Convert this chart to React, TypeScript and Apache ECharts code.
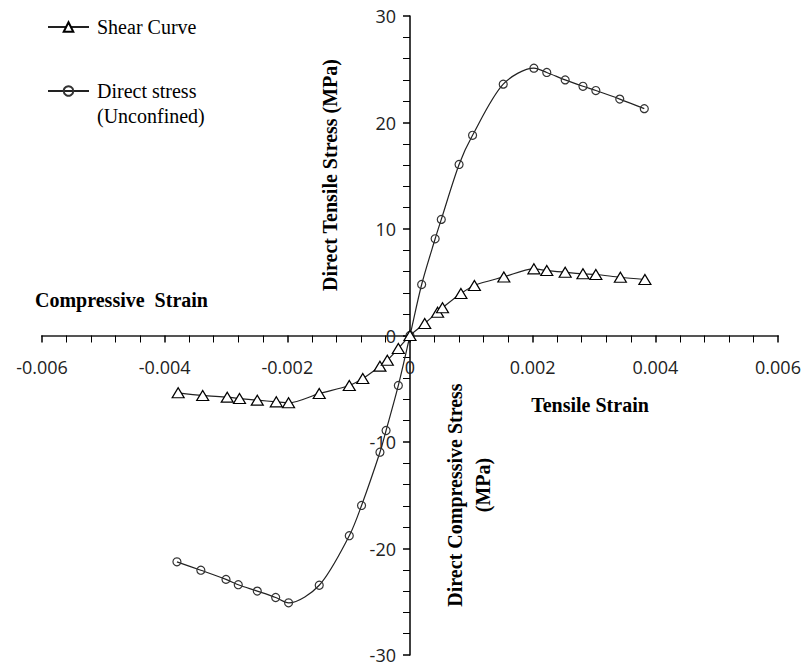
import React, { useEffect, useRef } from "react";
import * as echarts from "echarts";

const shearStrain = [-0.00378, -0.00338, -0.00298, -0.00278, -0.00249, -0.00218, -0.00198, -0.00148, -0.00099, -0.00077, -0.00049, -0.00037, -0.00019, 0, 0.00024, 0.00045, 0.00053, 0.00083, 0.00105, 0.00153, 0.00202, 0.00223, 0.00253, 0.00282, 0.00303, 0.00343, 0.00383];
const shearStress = [-5.38, -5.63, -5.79, -5.92, -6.07, -6.23, -6.32, -5.45, -4.69, -4.04, -2.88, -2.32, -1.22, 0, 1.13, 2.19, 2.6, 3.94, 4.7, 5.5, 6.26, 6.1, 5.94, 5.8, 5.73, 5.47, 5.26];

const directStrain = [-0.0038, -0.00341, -0.003, -0.0028, -0.00249, -0.00219, -0.00198, -0.00148, -0.00099, -0.00079, -0.00049, -0.00039, -0.00019, 0, 0.00019, 0.00041, 0.00051, 0.0008, 0.00102, 0.00152, 0.00202, 0.00223, 0.00253, 0.00282, 0.00303, 0.00342, 0.00382];
const directStress = [-21.25, -22.04, -22.9, -23.4, -24.0, -24.6, -25.1, -23.45, -18.8, -15.96, -10.96, -8.92, -4.69, 0, 4.79, 9.08, 10.9, 16.06, 18.8, 23.6, 25.1, 24.7, 24.0, 23.4, 23.0, 22.2, 21.3];

const seriesNames = ["Shear Curve", "Direct stress (Unconfined)"];
const xTicks = { min: -0.006, max: 0.006, interval: 0.002 };
const yTicks = { min: -30, max: 30, interval: 10 };

const serif = "'Liberation Serif', 'Times New Roman', serif";
const sans = "'Open Sans', 'DejaVu Sans', sans-serif";

const W = 805;
const H = 663;
const G = { left: 42, right: 27, top: 16, bottom: 8 };

export default function App() {
  const ref = useRef<HTMLDivElement>(null);
  useEffect(() => {
    if (!ref.current) return;
    const chart = echarts.init(ref.current, null, { renderer: "svg" });
    const shearData = shearStrain.map((x, i) => [x, shearStress[i]]);
    const directData = directStrain.map((x, i) => [x, directStress[i]]);
    const titleStyle = { fontFamily: serif, fontWeight: "bold", fontSize: 20, fill: "#000" };
    const gridH = H - G.top - G.bottom;
    const gridW = W - G.left - G.right;
    chart.setOption({
      animation: false,
      backgroundColor: "#fff",
      grid: { ...G, containLabel: false, outerBoundsMode: "none" },
      xAxis: {
        type: "value",
        position: "bottom",
        offset: -gridH / 2,
        min: xTicks.min,
        max: xTicks.max,
        interval: xTicks.interval,
        axisLine: { onZero: false, lineStyle: { color: "#555", width: 2 } },
        axisTick: { show: true, length: 7, lineStyle: { color: "#000", width: 1.5 } },
        minorTick: { show: true, splitNumber: 5, length: 7, lineStyle: { color: "#000", width: 1 } },
        splitLine: { show: false },
        axisLabel: {
          margin: 22,
          fontSize: 18,
          fontFamily: sans,
          color: "#222",
          formatter: (v: number) => (v === 0 ? "0" : String(Number(v.toFixed(3)))),
        },
      },
      yAxis: {
        type: "value",
        position: "left",
        offset: -gridW / 2,
        min: yTicks.min,
        max: yTicks.max,
        interval: yTicks.interval,
        axisLine: { onZero: false, lineStyle: { color: "#000", width: 1.5 } },
        axisTick: { show: true, length: 7, lineStyle: { color: "#000", width: 1.5 } },
        minorTick: { show: true, splitNumber: 5, length: 7, lineStyle: { color: "#000", width: 1 } },
        splitLine: { show: false },
        axisLabel: { margin: 14, fontSize: 18, fontFamily: sans, color: "#222" },
      },
      legend: [
        {
          data: [seriesNames[0]],
          left: 47,
          top: 14.5,
          padding: 0,
          itemWidth: 41,
          itemHeight: 12,
          textStyle: { fontFamily: serif, fontSize: 20, color: "#000", lineHeight: 25, padding: [0, 0, 0, 3] },
        },
        {
          data: [seriesNames[1]],
          left: 47,
          top: 53.5,
          padding: 0,
          itemWidth: 41,
          itemHeight: 12,
          formatter: () => "\nDirect stress\n(Unconfined)",
          textStyle: { fontFamily: serif, fontSize: 20, color: "#000", lineHeight: 25, padding: [0, 0, 0, 3] },
        },
      ],
      series: [
        {
          name: seriesNames[0],
          type: "line",
          data: shearData,
          smooth: 0.3,
          symbol: "triangle",
          symbolSize: [12, 10],
          lineStyle: { color: "#222", width: 1.2 },
          itemStyle: { color: "#fff", borderColor: "#000", borderWidth: 1.2 },
          z: 3,
        },
        {
          name: seriesNames[1],
          type: "line",
          data: directData,
          smooth: 0.3,
          symbol: "circle",
          symbolSize: 8,
          lineStyle: { color: "#222", width: 1.2 },
          itemStyle: { color: "rgba(255,255,255,0)", borderColor: "#333", borderWidth: 1.2 },
          z: 2,
        },
      ],
      graphic: [
        { type: "text", left: 35, top: 290, style: { ...titleStyle, text: "Compressive  Strain" } },
        { type: "text", x: 590, y: 405, style: { ...titleStyle, text: "Tensile Strain", align: "center", verticalAlign: "middle" } },
        { type: "text", x: 330, y: 175, rotation: Math.PI / 2, style: { ...titleStyle, text: "Direct Tensile Stress (MPa)", align: "center", verticalAlign: "middle" } },
        { type: "text", x: 455, y: 495, rotation: Math.PI / 2, style: { ...titleStyle, text: "Direct Compressive Stress", align: "center", verticalAlign: "middle" } },
        { type: "text", x: 483, y: 485, rotation: Math.PI / 2, style: { ...titleStyle, text: "(MPa)", align: "center", verticalAlign: "middle" } },
      ],
    });
    return () => chart.dispose();
  }, []);
  return <div ref={ref} style={{ position: "fixed", left: 0, top: 0, width: W, height: H }} />;
}
